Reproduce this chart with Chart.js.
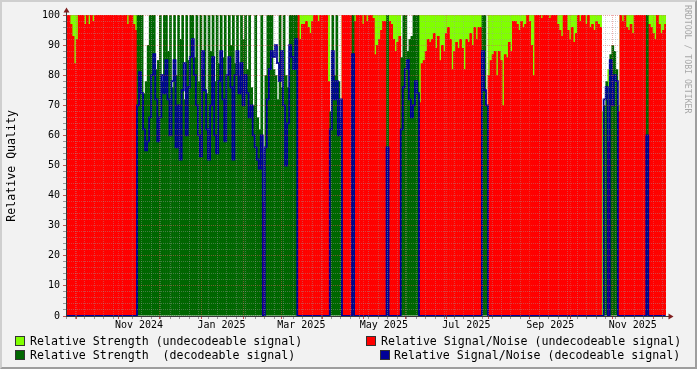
<!DOCTYPE html>
<html>
<head>
<meta charset="utf-8">
<script src="https://cdn.jsdelivr.net/npm/chart.js@4.4.1/dist/chart.umd.min.js"></script>
<style>
html,body{margin:0;padding:0;background:#f2f2f2;}
#wrap{position:relative;width:697px;height:369px;overflow:hidden;background:#f2f2f2;}
#c{position:absolute;left:0;top:0;}
#frame{position:absolute;left:0;top:0;width:697px;height:369px;box-sizing:border-box;
  border-top:2px solid #cfcfcf;border-left:2px solid #cfcfcf;border-right:2px solid #9e9e9e;border-bottom:2px solid #9e9e9e;pointer-events:none;}
.lg{position:absolute;font-family:"DejaVu Sans Mono",monospace;font-size:11.6px;line-height:14px;white-space:pre;color:#000;}
.sw{position:absolute;width:8px;height:8px;border:1px solid #333;}
#ytitle{position:absolute;left:4px;top:0;height:331px;width:14px;display:flex;align-items:center;justify-content:center;}
#ytitle span{writing-mode:vertical-rl;transform:rotate(180deg);font-family:"DejaVu Sans Mono",monospace;font-size:11.6px;color:#000;white-space:pre;}
#wm{position:absolute;left:683px;top:5px;writing-mode:vertical-rl;font-family:"DejaVu Sans Mono",monospace;font-size:8.2px;color:#a8a8a8;white-space:pre;}
</style>
</head>
<body>
<div id="wrap">
  <canvas id="c" width="697" height="369"></canvas>
  <div id="ytitle"><span>Relative Quality</span></div>
  <div id="wm">RRDTOOL / TOBI OETIKER</div>
  <div class="sw" style="left:15px;top:336px;background:#80ff00"></div>
  <div class="lg" style="left:30px;top:334px">Relative Strength (undecodeable signal)</div>
  <div class="sw" style="left:366px;top:336px;background:#ff0000"></div>
  <div class="lg" style="left:381px;top:334px">Relative Signal/Noise (undecodeable signal)</div>
  <div class="sw" style="left:15px;top:350px;background:#006600"></div>
  <div class="lg" style="left:30px;top:348px">Relative Strength  (decodeable signal)</div>
  <div class="sw" style="left:380px;top:350px;background:#000099"></div>
  <div class="lg" style="left:394px;top:348px">Relative Signal/Noise (decodeable signal)</div>
  <div id="frame"></div>
</div>
<script>
// ---- time range (each sample bin = 1.5 days) ----
const rangeStart = Date.UTC(2024, 8, 23);   // 23 Sep 2024
const rangeDays = 443.6;
const binDays = 1.5;

// 1 = decodeable signal in that bin, 0 = undecodeable
const decodable = [
  0,0,0,0,0,0,0,0,0,0, 0,0,0,0,0,0,0,0,0,0, 0,0,0,0,0,0,0,0,0,0, 0,0,0,0,0,1,1,1,1,1,
  1,1,1,1,1,1,1,1,1,1, 1,1,1,1,1,1,1,1,1,1, 1,1,1,1,1,1,1,1,1,1, 1,1,1,1,1,1,1,1,1,1,
  1,1,1,1,1,1,1,1,1,1, 1,1,1,1,1,1,1,0,1,1, 1,1,1,1,1,1,1,1,1,1, 1,1,1,1,0,0,0,0,0,0,
  0,0,0,0,0,0,0,0,0,0, 1,1,1,1,1,1,0,0,0,0, 0,1,0,0,0,0,0,0,0,0, 0,0,0,0,0,0,0,0,1,0,
  0,0,0,0,0,1,1,1,1,1, 1,1,1,1,0,0,0,0,0,0, 0,0,0,0,0,0,0,0,0,0, 0,0,0,0,0,0,0,0,0,0,
  0,0,0,0,0,1,1,1,0,0, 0,0,0,0,0,0,0,0,0,0, 0,0,0,0,0,0,0,0,0,0, 0,0,0,0,0,0,0,0,0,0,
  0,0,0,0,0,0,0,0,0,0, 0,0,0,0,0,0,0,0,0,0, 0,0,0,0,0,1,1,0,1,1, 1,1,0,0,0,0,0,0,0,0,
  0,0,0,0,0,0,1,0,0,0, 0,0,0,0,0,0
];

// Relative strength (%)
const strength = [
  100,100,100,100,100,100,100,100,100,100, 100,100,100,100,100,100,100,100,100,100,
  100,100,100,100,100,100,100,100,100,100, 100,100,100,100,100,100,100,100,74,78,
  90,100,100,100,82,85,100,78,100,100, 88,100,76,100,80,100,92,100,72,100,
  85,100,100,86,100,78,100,82,100,74, 100,88,100,78,100,84,100,86,100,80,
  100,90,100,84,100,80,100,92,100,82, 100,76,70,100,66,62,100,54,80,100,
  100,100,82,80,72,100,76,100,80,76, 100,100,100,100,100,100,100,100,100,100,
  100,100,100,100,100,100,100,100,100,100, 68,100,80,100,78,66,100,100,100,100,
  100,100,100,100,100,100,100,100,100,100, 100,100,100,100,100,100,100,100,100,100,
  100,100,100,100,100,86,100,100,88,92, 93,100,100,100,100,100,100,100,100,100,
  100,100,100,100,100,100,100,100,100,100, 100,100,100,100,100,100,100,100,100,100,
  100,100,100,100,100,100,100,70,100,100, 100,100,100,100,100,100,100,100,100,100,
  100,100,100,100,100,100,100,100,100,100, 100,100,100,100,100,100,100,100,100,100,
  100,100,100,100,100,100,100,100,100,100, 100,100,100,100,100,100,100,100,100,100,
  100,100,100,100,68,70,78,82,87,90, 88,82,70,100,100,100,100,100,100,100,
  100,100,100,100,100,100,100,100,100,100, 100,100,100,100,100,100
];

// Relative signal/noise (%)
const signalNoise = [
  100,100,97,93,84,92,100,100,100,97, 100,97,100,98,100,100,100,100,100,100,
  100,100,100,100,100,100,100,100,100,100, 97,100,100,97,95,70,81,74,62,55,
  58,66,80,87,72,58,66,80,74,85, 72,60,78,85,56,70,52,75,84,60,
  76,86,92,80,70,60,53,88,75,62, 52,70,86,60,54,78,88,72,58,80,
  86,76,52,80,88,74,84,70,80,74, 66,70,60,56,52,49,60,38,56,72,
  82,88,86,90,84,78,88,70,50,64, 90,86,82,92,100,92,97,97,98,96,
  94,98,100,100,98,100,100,100,100,78, 62,88,72,78,60,72,100,100,100,100,
  100,87,98,100,100,100,97,100,98,100, 100,99,87,90,92,95,98,98,56,98,
  97,92,88,91,93,62,76,82,85,72, 66,70,78,74,71,84,85,88,92,91,
  92,94,89,93,85,90,88,94,96,92, 82,88,91,89,92,89,82,92,91,94,
  90,96,92,96,96,88,75,70,80,85, 87,88,80,88,85,70,87,86,91,88,
  98,98,97,95,98,96,97,100,98,90, 80,100,100,100,99,100,100,100,99,100,
  100,100,97,95,93,100,100,95,92,96, 91,94,100,98,100,100,97,100,96,97,
  95,98,97,96,0,72,76,58,85,70, 80,78,68,100,98,100,96,95,97,94,
  100,100,100,100,100,100,60,97,96,94, 92,100,97,94,95,97
];

// axis labels
const yLabelValues = [0,10,20,30,40,50,60,70,80,90,100];
const xLabelMonths = [[2024,10],[2025,0],[2025,2],[2025,4],[2025,6],[2025,8],[2025,10]];
const xLabelTexts = ['Nov 2024','Jan 2025','Mar 2025','May 2025','Jul 2025','Sep 2025','Nov 2025'];

// ---------------------------------------------------------------
const DAY = 86400000;
const t0 = rangeStart, t1 = rangeStart + rangeDays * DAY;
const xAt = i => t0 + (i + 0.5) * binDays * DAY;

const C_LG = '#80ff00', C_RED = '#ff0000', C_DG = '#006600', C_BLUE = '#000099';
const GRID_MINOR = 'rgba(160,160,160,0.4)';
const GRID_MAJOR = 'rgba(222,90,90,0.5)';
const AXIS = '#3a3a3a';

const xTickType = new Map();
const xTickLabel = new Map();
{
  let d = new Date(t0);
  while (d.getUTCDay() !== 1) d = new Date(d.getTime() + DAY);
  for (let t = d.getTime(); t <= t1; t += 7 * DAY) xTickType.set(t, 'minor');
  for (let y = 2024, m = 9; ; ) {
    const t = Date.UTC(y, m, 1);
    if (t > t1) break;
    if (t >= t0) xTickType.set(t, 'major');
    m++; if (m > 11) { m = 0; y++; }
  }
  xLabelMonths.forEach(([y, m], k) => {
    const t = Date.UTC(y, m, 1) + 15 * DAY;
    xTickType.set(t, 'label');
    xTickLabel.set(t, xLabelTexts[k]);
  });
}
const xTickValues = [...xTickType.keys()].sort((a, b) => a - b);
const yTickValues = [];
for (let v = 0; v <= 100; v += 2) yTickValues.push(v);

const pts = (fn) => decodable.map((dec, i) => ({x: xAt(i), y: fn(dec, i)}));

const bg = {
  id: 'bg',
  beforeDatasetsDraw(chart) {
    const {ctx, chartArea: a} = chart;
    ctx.save(); ctx.fillStyle = '#ffffff';
    ctx.fillRect(a.left, a.top, a.right - a.left, a.bottom - a.top);
    ctx.restore();
  }
};
const arrows = {
  id: 'arrows',
  afterDraw(chart) {
    const {ctx, chartArea: a} = chart;
    ctx.save();
    ctx.strokeStyle = AXIS; ctx.lineWidth = 1;
    ctx.beginPath();
    ctx.moveTo(a.left + 0.5, a.top); ctx.lineTo(a.left + 0.5, a.top - 4);
    ctx.moveTo(a.right, a.bottom + 0.5); ctx.lineTo(a.right + 4, a.bottom + 0.5);
    ctx.stroke();
    ctx.fillStyle = '#801f1f';
    ctx.beginPath();
    ctx.moveTo(a.left + 0.5, a.top - 7.5);
    ctx.lineTo(a.left - 2.5, a.top - 2.5);
    ctx.lineTo(a.left + 3.5, a.top - 2.5);
    ctx.closePath(); ctx.fill();
    ctx.beginPath();
    ctx.moveTo(a.right + 7.5, a.bottom + 0.5);
    ctx.lineTo(a.right + 2.5, a.bottom - 2.5);
    ctx.lineTo(a.right + 2.5, a.bottom + 3.5);
    ctx.closePath(); ctx.fill();
    ctx.restore();
  }
};

new Chart(document.getElementById('c'), {
  type: 'bar',
  data: {
    datasets: [
      {type: 'line', label: 'Relative Signal/Noise (decodeable signal)',
       data: pts((dec, i) => dec ? signalNoise[i] : 0),
       borderColor: C_BLUE, borderWidth: 1.8, pointRadius: 0, stepped: 'middle',
       fill: false, order: 0, clip: 0},
      {label: 'Relative Strength  (decodeable signal)',
       data: pts((dec, i) => dec ? strength[i] : null),
       backgroundColor: C_DG, order: 1},
      {label: 'Relative Signal/Noise (undecodeable signal)',
       data: pts((dec, i) => dec ? null : signalNoise[i]),
       backgroundColor: C_RED, order: 2},
      {label: 'Relative Strength (undecodeable signal)',
       data: pts((dec, i) => dec ? null : strength[i]),
       backgroundColor: C_LG, order: 3}
    ]
  },
  options: {
    responsive: false, animation: false, devicePixelRatio: 1,
    layout: {padding: {left: 0, top: 15, right: 31, bottom: 31}},
    datasets: {bar: {grouped: false, barThickness: 2.7, borderWidth: 0, inflateAmount: 0}},
    plugins: {legend: {display: false}, tooltip: {enabled: false}},
    scales: {
      x: {
        type: 'linear', min: t0, max: t1, offset: false,
        afterBuildTicks: s => { s.ticks = xTickValues.map(v => ({value: v})); },
        afterFit: s => { s.height = 22; },
        ticks: {autoSkip: false, maxRotation: 0, minRotation: 0, padding: 0,
          font: {family: 'DejaVu Sans Mono', size: 10}, color: '#000',
          callback: v => xTickLabel.get(v) || ''},
        grid: {offset: false, z: 1, tickLength: 3, lineWidth: 1,
          color: c => { const t = xTickType.get(c.tick && c.tick.value);
            return t === 'major' ? GRID_MAJOR : t === 'minor' ? GRID_MINOR : 'rgba(0,0,0,0)'; },
          tickColor: c => { const t = xTickType.get(c.tick && c.tick.value);
            return t === 'major' ? '#c05050' : t === 'minor' ? '#999' : 'rgba(0,0,0,0)'; }},
        border: {display: true, color: AXIS, width: 1, z: 2, dash: [1, 1]}
      },
      y: {
        min: 0, max: 100,
        afterBuildTicks: s => { s.ticks = yTickValues.map(v => ({value: v})); },
        afterFit: s => { s.width = 66; },
        ticks: {autoSkip: false, padding: 3,
          font: {family: 'DejaVu Sans Mono', size: 10}, color: '#000',
          callback: v => yLabelValues.includes(v) ? String(v) : ''},
        grid: {z: 1, tickLength: 3, lineWidth: 1,
          color: c => yLabelValues.includes(c.tick && c.tick.value) ? GRID_MAJOR : GRID_MINOR,
          tickColor: c => yLabelValues.includes(c.tick && c.tick.value) ? '#c05050' : '#999'},
        border: {display: true, color: AXIS, width: 1, z: 2, dash: [1, 1]}
      }
    }
  },
  plugins: [bg, arrows]
});
</script>
</body>
</html>
